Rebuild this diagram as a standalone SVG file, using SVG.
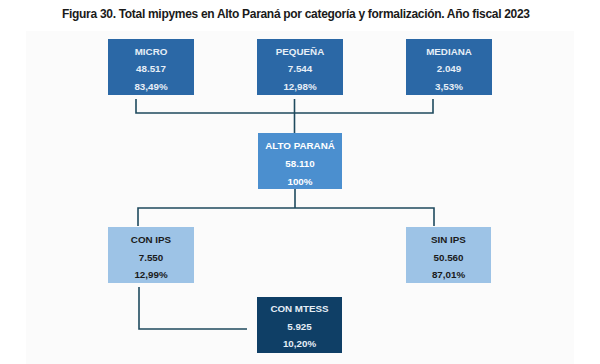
<svg xmlns="http://www.w3.org/2000/svg" width="600" height="364" viewBox="0 0 600 364">
<style>
.t{font-family:"Liberation Sans",Arial,sans-serif;font-weight:bold;font-size:9.8px;text-anchor:middle}
.w{fill:#e6eef6}
.d{fill:#1a1a1a}
.c{fill:none;stroke:#1f4a5e;stroke-width:1.6}
</style>
<rect width="600" height="364" fill="#ffffff"/>
<rect x="26" y="31" width="548" height="333" fill="#fbfbfb"/>
<text x="296" y="17.5" font-family="'Liberation Sans',Arial,sans-serif" font-weight="bold" font-size="12" text-anchor="middle" fill="#1a1a1a" textLength="468" lengthAdjust="spacing">Figura 30. Total mipymes en Alto Paraná por categoría y formalización. Año fiscal 2023</text>
<g id="connectors" class="c">
<path d="M136 99V113H433V99"/>
<path d="M294.5 99V133"/>
<path d="M295 189V208"/>
<path d="M138 226V208H434V226"/>
<path d="M139 287V329H247"/>
</g>
<g id="micro">
<rect x="108" y="39" width="86" height="56" fill="#2b68a6"/>
<text class="t w" x="151" y="54.5">MICRO</text>
<text class="t w" x="151" y="71.5">48.517</text>
<text class="t w" x="151" y="89.5">83,49%</text>
</g>
<g id="pequena">
<rect x="257" y="39" width="86" height="56" fill="#2b68a6"/>
<text class="t w" x="300" y="54.5">PEQUEÑA</text>
<text class="t w" x="300" y="71.5">7.544</text>
<text class="t w" x="300" y="89.5">12,98%</text>
</g>
<g id="mediana">
<rect x="406" y="39" width="86" height="56" fill="#2b68a6"/>
<text class="t w" x="449" y="54.5">MEDIANA</text>
<text class="t w" x="449" y="71.5">2.049</text>
<text class="t w" x="449" y="89.5">3,53%</text>
</g>
<g id="alto-parana">
<rect x="258" y="133" width="84" height="56" fill="#4b8fcf"/>
<text class="t" fill="#ffffff" x="300" y="148.5">ALTO PARANÁ</text>
<text class="t" fill="#ffffff" x="300" y="166.5">58.110</text>
<text class="t" fill="#ffffff" x="300" y="184.5">100%</text>
</g>
<g id="con-ips">
<rect x="108" y="227" width="86" height="56" fill="#9dc3e6"/>
<text class="t d" x="151" y="242.5">CON IPS</text>
<text class="t d" x="151" y="260.5">7.550</text>
<text class="t d" x="151" y="277.5">12,99%</text>
</g>
<g id="sin-ips">
<rect x="406" y="227" width="85" height="56" fill="#9dc3e6"/>
<text class="t d" x="448.5" y="242.5">SIN IPS</text>
<text class="t d" x="448.5" y="260.5">50.560</text>
<text class="t d" x="448.5" y="277.5">87,01%</text>
</g>
<g id="con-mtess">
<rect x="257" y="297" width="85" height="56" fill="#0f3f66"/>
<text class="t w" x="299.5" y="311.5">CON MTESS</text>
<text class="t w" x="299.5" y="329.5">5.925</text>
<text class="t w" x="299.5" y="346.5">10,20%</text>
</g>
</svg>
